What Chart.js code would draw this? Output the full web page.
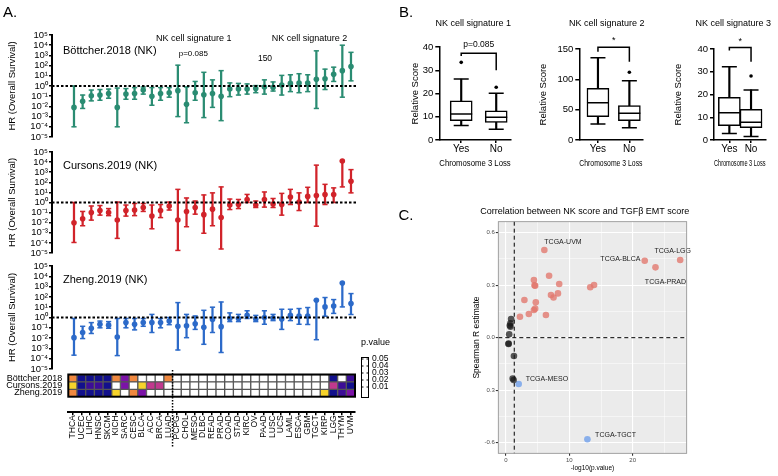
<!DOCTYPE html>
<html>
<head>
<meta charset="utf-8">
<script src="https://cdn.jsdelivr.net/npm/chart.js@4.4.1/dist/chart.umd.min.js"></script>
<style>
  body { margin: 0; background: #fff; }
  #page { position: relative; width: 778px; height: 476px; overflow: hidden; font-family: 'Liberation Sans', Arial, sans-serif; color: #000; }
  #page canvas { position: absolute; }
  .txt { position: absolute; white-space: nowrap; line-height: 1; transform: translate(-50%, -50%); }
  .left { transform: translate(0, -50%); }
  .narrow { font-family: 'Liberation Sans Narrow', 'Liberation Sans', Arial, sans-serif; }
</style>
</head>
<body>
<div id="page">
  <canvas id="forest1" width="370" height="145" style="left:0px;top:0px"></canvas>
  <canvas id="forest2" width="370" height="118" style="left:0px;top:145px"></canvas>
  <canvas id="forest3" width="370" height="123" style="left:0px;top:258px"></canvas>
  <canvas id="heat" width="400" height="125" style="left:0px;top:335px"></canvas>
  <canvas id="box1" width="130" height="175" style="left:395px;top:0px"></canvas>
  <canvas id="box2" width="125" height="175" style="left:530px;top:0px"></canvas>
  <canvas id="box3" width="118" height="175" style="left:660px;top:0px"></canvas>
  <canvas id="corr" width="398" height="286" style="left:380px;top:190px"></canvas>
</div>
<script>
// ---- data ----
const cancers = ['THCA', 'UCEC', 'LIHC', 'HNSC', 'SKCM', 'KICH', 'SARC', 'CESC', 'BLCA', 'ACC', 'BRCA', 'LUAD',
  'PCPG', 'CHOL', 'MESO', 'DLBC', 'READ', 'PRAD', 'COAD', 'STAD', 'KIRC', 'OV', 'PAAD', 'LUSC', 'UCS', 'LAML',
  'ESCA', 'GBM', 'TGCT', 'KIRP', 'LGG', 'THYM', 'UVM'];

// hazard ratios with lower / upper bounds
const hrBottcher = [0.008, 0.032, 0.11, 0.13, 0.18, 0.008, 0.16, 0.18, 0.4, 0.1, 0.18, 0.22, 0.35, 0.016, 0.22, 0.14, 0.18, 0.1, 0.5, 0.5, 0.5, 0.56, 0.8, 0.7, 1.26, 1.8, 2, 2, 4.5, 5, 14, 32, 80];
const loBottcher = [1e-4, 0.0063, 0.035, 0.04, 0.063, 1e-4, 0.05, 0.05, 0.16, 0.013, 0.04, 0.08, 0.001, 2.5e-4, 0.04, 8e-4, 0.008, 4e-4, 0.09, 0.13, 0.16, 0.22, 0.16, 0.32, 0.13, 0.28, 0.22, 0.28, 0.0063, 0.45, 2.8, 0.08, 3.2];
const hiBottcher = [1, 0.13, 0.4, 0.45, 0.5, 0.63, 0.56, 0.7, 0.8, 0.7, 0.7, 0.7, 110, 0.8, 2.8, 22, 4, 32, 2, 1.8, 1.6, 1.1, 4, 2.5, 11, 12.6, 16, 12.6, 2800, 45, 70, 10000, 2000];

const hrCursons = [0.01, 0.025, 0.1, 0.16, 0.1, 0.018, 0.16, 0.18, 0.32, 0.045, 0.16, 0.45, 0.018, 0.13, 0.32, 0.063, 0.22, 0.032, 0.56, 0.63, 2, 0.56, 2, 0.7, 0.63, 3.5, 1.1, 4, 5, 6.3, 6.3, 12600, 126];
const loCursons = [1.1e-4, 0.005, 0.018, 0.056, 0.05, 2.8e-4, 0.045, 0.05, 0.13, 0.0025, 0.032, 0.18, 1.8e-5, 0.004, 0.07, 9e-4, 0.005, 2.5e-5, 0.2, 0.25, 1, 0.32, 0.35, 0.32, 0.056, 0.63, 0.16, 1, 0.0045, 0.63, 1, 35, 9];
const hiCursons = [1, 0.13, 0.45, 0.5, 0.25, 1.1, 0.56, 0.8, 0.8, 0.56, 0.63, 1.1, 20, 2.8, 1.4, 5.6, 9, 35, 2.2, 2, 6.3, 1.4, 11, 2.5, 8, 20, 9, 32, 5000, 63, 28, 12600, 1800];

const hrZheng = [0.011, 0.035, 0.09, 0.22, 0.18, 0.0126, 0.32, 0.22, 0.32, 0.32, 0.32, 0.45, 0.14, 0.16, 0.25, 0.11, 0.63, 0.13, 0.8, 0.8, 1.6, 0.7, 1, 0.9, 0.7, 1.6, 1.35, 1.4, 47, 10.7, 13, 2200, 23];
const loZheng = [2.2e-4, 0.009, 0.028, 0.1, 0.09, 2e-4, 0.1, 0.063, 0.14, 0.035, 0.1, 0.2, 7e-4, 0.011, 0.07, 0.0025, 0.035, 4e-4, 0.4, 0.4, 0.8, 0.4, 0.22, 0.5, 0.07, 0.5, 0.22, 0.21, 0.007, 1.35, 2.5, 10.7, 1.95];
const hiZheng = [0.8, 0.14, 0.32, 0.45, 0.4, 0.8, 0.8, 0.8, 0.8, 2, 0.8, 1, 28, 2, 1.4, 5, 10, 32, 2.8, 2, 4.5, 1.6, 4.5, 2, 6.3, 6.3, 7.4, 9.3, 47, 87, 55, 2200, 210];

const hrTicks = [1e-5, 1e-4, 1e-3, 1e-2, 1e-1, 1, 1e1, 1e2, 1e3, 1e4, 1e5];

// heatmap p-values (null = not significant)
const heatRows = ['Zheng.2019', 'Cursons.2019', 'Böttcher.2018'];
const pBottcher = [0.03, 0.001, 0.003, 0.001, 0.001, 0.03, 0.012, 0.03, null, null, null, 0.03,
  null, null, null, null, null, null, null, null, null, null, null, null, null, null, null, null, null, null, 0.001, null, 0.008];
const pCursons = [0.04, 0.001, 0.005, 0.005, 0.001, null, 0.012, null, 0.04, 0.02, 0.02, null,
  null, null, null, null, null, null, null, null, null, null, null, null, null, null, null, null, null, null, 0.02, 0.004, 0.001];
const pZheng = [0.03, 0.001, 0.001, 0.001, 0.001, 0.04, null, 0.03, 0.012, null, null, null,
  null, null, null, null, null, null, null, null, null, null, null, null, null, null, null, null, null, 0.04, 0.001, 0.005, 0.012];
const pLegendTicks = [0.05, 0.04, 0.03, 0.02, 0.01];
const pStops = [0.001, 0.005, 0.012, 0.02, 0.03, 0.04];
const pColors = ['#12108c', '#3c0d97', '#7b12a7', '#c1398e', '#f0883f', '#f6d32b'];

// box plot stats: [low whisker, q1, median, q3, high whisker]
const groups = ['Yes', 'No'];
const sig1Yes = [6.2, 8.3, 11.2, 16.9, 26.2];
const sig1No = [4.6, 7.6, 9.8, 12.5, 20.1];
const sig1Out = [33.4, 22.7];
const sig2Yes = [26.4, 38.5, 61.5, 85.2, 135.7];
const sig2No = [20.3, 31.9, 44, 56.6, 97.8];
const sig2Out = [null, 111.6];
const sig3Yes = [2.9, 6.3, 12, 18.8, 32.2];
const sig3No = [1.5, 5.4, 7.8, 13.5, 22];
const sig3Out = [null, 28.1];
// bracket: [left drop end, bar level, right drop end]
const sig1Bracket = [36.1, 37.3, 30];
const sig2Bracket = [145.6, 152.8, 129];
const sig3Bracket = [39.3, 40.7, 34.4];

// correlation scatter (-log10 p, Spearman R)
const redX = [6.05, 21.9, 27.5, 23.6, 6.8, 4.4, 4.5, 4.6, 8.4, 13.3, 13.9, 2.9, 7.1, 7.5, 8.2, 4.7, 3.6, 4.4, 4.6, 2.2, 6.3];
const redY = [0.501, 0.44, 0.444, 0.402, 0.354, 0.329, 0.299, 0.297, 0.307, 0.288, 0.301, 0.215, 0.244, 0.23, 0.253, 0.202, 0.135, 0.158, 0.166, 0.12, 0.13];
const blackX = [0.8, 0.7, 0.6, 0.7, 0.5, 0.4, 0.4, 1.25, 1.05, 1.2];
const blackY = [0.107, 0.082, 0.069, 0.063, 0.019, -0.033, -0.036, -0.105, -0.234, -0.242];
const blueX = [2.0, 12.85];
const blueY = [-0.265, -0.581];
const corrYTicks = [-0.6, -0.3, 0, 0.3, 0.6];
const corrYTickText = ['-0.6', '0.3', '0.0', '0.3', '0.6'];
const corrXTicks = [0, 10, 20];

const NARROW = "'Liberation Sans Narrow', 'Liberation Sans', Arial, sans-serif";
Chart.defaults.font.family = "'Liberation Sans', Arial, sans-serif";
Chart.defaults.color = '#000';
Chart.defaults.animation = false;
Chart.defaults.plugins.legend.display = false;
Chart.defaults.plugins.tooltip.enabled = false;

// ---- panel A: forest plots ----
const SUP = { '-': '\u207B', '0': '\u2070', '1': '\u00B9', '2': '\u00B2', '3': '\u00B3', '4': '\u2074', '5': '\u2075' };
function supText(n) {
  return String(n).split('').map(c => SUP[c]).join('');
}

const refLine = {
  id: 'refLine',
  afterDatasetsDraw(chart) {
    const { ctx, chartArea, scales } = chart;
    const y = scales.y.getPixelForValue(1);
    ctx.save();
    ctx.strokeStyle = '#000';
    ctx.lineWidth = 2;
    ctx.setLineDash([2.5, 2]);
    ctx.beginPath();
    ctx.moveTo(chartArea.left, y);
    ctx.lineTo(chartArea.right, y);
    ctx.stroke();
    ctx.restore();
  }
};

function forestChart(id, hr, lo, hi, color, padding) {
  const pts = arr => arr.map((v, i) => ({ x: i, y: v }));
  const cap = data => ({
    type: 'line', data: pts(data), showLine: false, pointStyle: 'line',
    pointRadius: 2.6, pointBorderColor: color, pointBorderWidth: 1.5, order: 2
  });
  return new Chart(document.getElementById(id), {
    type: 'bar',
    data: {
      datasets: [
        { type: 'line', data: pts(hr), showLine: false, pointRadius: 2.8, pointBackgroundColor: color, pointBorderWidth: 0, order: 1 },
        cap(lo),
        cap(hi),
        { type: 'bar', data: hr.map((v, i) => ({ x: i, y: [lo[i], hi[i]] })), backgroundColor: color, barThickness: 1.6, grouped: false, order: 3 }
      ]
    },
    options: {
      responsive: false,
      layout: { padding: padding },
      scales: {
        x: { type: 'linear', min: -2.54, max: 32.81, display: false, offset: false },
        y: {
          type: 'logarithmic', min: 1e-5, max: 1e5,
          afterBuildTicks: s => { s.ticks = hrTicks.map(v => ({ value: v })); },
          afterFit: s => { s.width = 52; },
          border: { color: '#000', width: 2 },
          grid: { drawOnChartArea: false, color: '#000', lineWidth: 1.5, tickLength: 3 },
          ticks: { autoSkip: false, font: { size: 9.5 }, padding: 1, callback: v => '10' + supText(Math.round(Math.log10(v))) },
          title: { display: true, text: 'HR (Overall Survival)', font: { size: 9.5 }, padding: { top: 6.3, bottom: 0 } }
        }
      }
    },
    plugins: [refLine]
  });
}

forestChart('forest1', hrBottcher, loBottcher, hiBottcher, '#2a8c72', { left: 0, top: 35, right: 12, bottom: 8 });
forestChart('forest2', hrCursons, loCursons, hiCursons, '#d1232a', { left: 0, top: 7, right: 12, bottom: 10 });
forestChart('forest3', hrZheng, loZheng, hiZheng, '#2c6ac9', { left: 0, top: 8, right: 12, bottom: 12 });

// ---- heatmap ----
function pColor(p) {
  if (p === null) return '#ffffff';
  let best = 0;
  pStops.forEach((s, i) => { if (Math.abs(s - p) < Math.abs(pStops[best] - p)) best = i; });
  return pColors[best];
}

const heatExtras = {
  id: 'heatExtras',
  afterDraw(chart) {
    const { ctx, chartArea, scales } = chart;
    const top = scales.y.getPixelForValue(3), bottom = scales.y.getPixelForValue(0);
    ctx.save();
    // outer frame
    ctx.strokeStyle = '#000';
    ctx.lineWidth = 2;
    ctx.strokeRect(chartArea.left, top, chartArea.right - chartArea.left, bottom - top);
    // dotted separator between LUAD and PCPG
    const xs = (scales.x.getPixelForValue(11) + scales.x.getPixelForValue(12)) / 2;
    ctx.lineWidth = 1.5;
    ctx.setLineDash([1.5, 1.5]);
    ctx.beginPath();
    ctx.moveTo(xs, 35);
    ctx.lineTo(xs, 113);
    ctx.stroke();
    ctx.setLineDash([]);
    // p.value colour bar legend
    ctx.fillStyle = '#000';
    ctx.font = "9px 'Liberation Sans', Arial, sans-serif";
    ctx.textBaseline = 'middle';
    ctx.textAlign = 'left';
    ctx.fillText('p.value', 361, 8);
    ctx.lineWidth = 1;
    ctx.strokeRect(361.5, 22.5, 7, 40);
    ctx.font = "8.5px 'Liberation Sans', Arial, sans-serif";
    pLegendTicks.forEach(p => {
      const y = 24 + (0.05 - p) / 0.01 * 7;
      ctx.beginPath();
      ctx.moveTo(361.5, y); ctx.lineTo(363.5, y);
      ctx.moveTo(366.5, y); ctx.lineTo(368.5, y);
      ctx.stroke();
      ctx.fillText(p.toFixed(2), 372, y);
    });
    ctx.restore();
  }
};

new Chart(document.getElementById('heat'), {
  type: 'bar',
  data: {
    labels: cancers,
    datasets: [pZheng, pCursons, pBottcher].map((row, k) => ({
      label: heatRows[k],
      data: cancers.map(() => 1),
      backgroundColor: row.map(pColor),
      borderColor: '#555',
      borderWidth: 1,
      borderSkipped: false,
      barPercentage: 1,
      categoryPercentage: 1,
      stack: 'cells'
    }))
  },
  options: {
    responsive: false,
    layout: { padding: { left: 0, top: 39.5, right: 45, bottom: 0 } },
    scales: {
      x: {
        stacked: true, offset: true,
        afterFit: s => { s.height = 47.7; },
        border: { color: '#000', width: 2 },
        grid: { offset: false, drawOnChartArea: false, color: '#000', lineWidth: 1.5, tickLength: 3 },
        ticks: { minRotation: 90, maxRotation: 90, autoSkip: false, font: { size: 8.5 }, padding: 0 }
      },
      y: {
        stacked: true, min: -2.108, max: 3,
        afterBuildTicks: s => { s.ticks = [0.5, 1.5, 2.5].map(v => ({ value: v })); },
        afterFit: s => { s.width = 68.3; },
        border: { display: false },
        grid: { display: false, drawTicks: false },
        ticks: { font: { size: 9 }, padding: 6, callback: v => heatRows[Math.floor(v)] }
      }
    }
  },
  plugins: [heatExtras]
});

// ---- panel B: box plots ----
const textLabels = {
  id: 'textLabels',
  afterDatasetsDraw(chart, args, opts) {
    const { ctx, scales } = chart;
    ctx.save();
    (opts.items || []).forEach(it => {
      ctx.font = it.font;
      ctx.fillStyle = it.color || '#000';
      ctx.textAlign = it.align || 'center';
      ctx.textBaseline = 'middle';
      ctx.fillText(it.text, scales.x.getPixelForValue(it.x) + (it.dx || 0), scales.y.getPixelForValue(it.y) + (it.dy || 0));
    });
    ctx.restore();
  }
};

function boxChart(id, cfg) {
  const stats = [cfg.yes, cfg.no];
  const at = k => stats.map((s, i) => ({ x: i, y: s[k] }));
  const b = cfg.bracket;
  return new Chart(document.getElementById(id), {
    type: 'bar',
    data: {
      datasets: [
        { type: 'bar', data: stats.map((s, i) => ({ x: i, y: [s[0], s[4]] })), backgroundColor: '#000', barThickness: 1.5, grouped: false, order: 4 },
        { type: 'bar', data: stats.map((s, i) => ({ x: i, y: [s[1], s[3]] })), backgroundColor: '#fff', borderColor: '#000', borderWidth: 1.5, borderSkipped: false, barThickness: 22, grouped: false, order: 3 },
        { type: 'line', data: at(2), showLine: false, pointStyle: 'line', pointRadius: 11, pointBorderColor: '#000', pointBorderWidth: 1.5, order: 2 },
        { type: 'line', data: at(0).concat(at(4)), showLine: false, pointStyle: 'line', pointRadius: 7.5, pointBorderColor: '#000', pointBorderWidth: 1.5, order: 2 },
        { type: 'line', data: cfg.out.map((v, i) => ({ x: i, y: v })).filter(p => p.y !== null), showLine: false, pointRadius: 1.8, pointBackgroundColor: '#000', pointBorderWidth: 0, order: 1 },
        { type: 'line', data: [{ x: 0, y: b[0] }, { x: 0, y: b[1] }, { x: 1, y: b[1] }, { x: 1, y: b[2] }], borderColor: '#000', borderWidth: 1.5, pointRadius: 0, clip: false, order: 1 }
      ]
    },
    options: {
      responsive: false,
      layout: { padding: { left: 0, top: cfg.top, right: cfg.padRight, bottom: 0 } },
      plugins: { textLabels: { items: [{ text: cfg.mark, x: 0.5, y: cfg.markY, font: cfg.markFont }] } },
      scales: {
        x: {
          type: 'linear', min: cfg.xMin, max: cfg.xMax, offset: false,
          afterBuildTicks: s => { s.ticks = [{ value: 0 }, { value: 1 }]; },
          afterFit: s => { s.height = 35; },
          border: { color: '#000', width: 1.5 },
          grid: { drawOnChartArea: false, offset: false, color: '#000', lineWidth: 1.5, tickLength: 3 },
          ticks: { font: { family: NARROW, size: 10 }, padding: 0, callback: v => groups[v] },
          title: { display: true, text: 'Chromosome 3 Loss', font: { family: NARROW, size: 9.5 }, padding: { top: 0, bottom: 6.3 } }
        },
        y: {
          min: 0, max: cfg.yMax,
          ticks: { stepSize: cfg.yStep, font: { family: NARROW, size: 9.5 }, padding: 2 },
          afterFit: s => { s.width = cfg.yWidth; },
          border: { color: '#000', width: 1.5 },
          grid: { drawOnChartArea: false, color: '#000', lineWidth: 1.5, tickLength: 4 },
          title: { display: true, text: 'Relative Score', font: { family: NARROW, size: 9.5 }, padding: { top: cfg.titlePad, bottom: 0 } }
        }
      }
    },
    plugins: [textLabels]
  });
}

boxChart('box1', { yes: sig1Yes, no: sig1No, out: sig1Out, bracket: sig1Bracket, mark: 'p=0.085', markY: 40.9, markFont: "8.5px " + NARROW,
  top: 47, padRight: 14.3, xMin: -0.626, xMax: 1.414, yMax: 40, yStep: 10, yWidth: 44.3, titlePad: 14.3 });
boxChart('box2', { yes: sig2Yes, no: sig2No, out: sig2Out, bracket: sig2Bracket, mark: '*', markY: 164, markFont: "9px " + NARROW,
  top: 49, padRight: 8.3, xMin: -0.594, xMax: 1.418, yMax: 150, yStep: 50, yWidth: 49.3, titlePad: 7.6 });
boxChart('box3', { yes: sig3Yes, no: sig3No, out: sig3Out, bracket: sig3Bracket, mark: '*', markY: 43.1, markFont: "9px " + NARROW,
  top: 49, padRight: 6.3, xMin: -0.708, xMax: 1.667, yMax: 40, yStep: 10, yWidth: 54, titlePad: 12.6 });

// ---- panel C: correlation scatter ----
const ggPanel = {
  id: 'ggPanel',
  beforeDraw(chart) {
    const { ctx, chartArea: a } = chart;
    ctx.save();
    ctx.fillStyle = '#ebebeb';
    ctx.fillRect(a.left, a.top, a.right - a.left, a.bottom - a.top);
    ctx.restore();
  },
  beforeDatasetsDraw(chart) {
    const { ctx, chartArea: a, scales } = chart;
    ctx.save();
    ctx.strokeStyle = '#000';
    ctx.lineWidth = 1;
    ctx.setLineDash([4, 3]);
    const xv = scales.x.getPixelForValue(-Math.log10(0.05));
    const y0 = scales.y.getPixelForValue(0);
    ctx.beginPath();
    ctx.moveTo(xv, a.top); ctx.lineTo(xv, a.bottom);
    ctx.moveTo(a.left, y0); ctx.lineTo(a.right, y0);
    ctx.stroke();
    ctx.restore();
  },
  afterDraw(chart) {
    const { ctx, chartArea: a } = chart;
    ctx.save();
    ctx.strokeStyle = '#8c8c8c';
    ctx.lineWidth = 0.8;
    ctx.strokeRect(a.left, a.top, a.right - a.left, a.bottom - a.top);
    ctx.restore();
  }
};

const zip = (xs, ys) => xs.map((x, i) => ({ x: x, y: ys[i] }));
const LBL = "7px 'Liberation Sans', Arial, sans-serif";
new Chart(document.getElementById('corr'), {
  type: 'scatter',
  data: {
    datasets: [
      { data: zip(redX, redY), pointRadius: 3.3, pointBackgroundColor: 'rgba(226,118,108,0.78)', pointBorderWidth: 0 },
      { data: zip(blackX, blackY), pointRadius: 3.3, pointBackgroundColor: 'rgba(25,25,25,0.72)', pointBorderWidth: 0 },
      { data: zip(blueX, blueY), pointRadius: 3.3, pointBackgroundColor: 'rgba(120,165,235,0.85)', pointBorderWidth: 0 }
    ]
  },
  options: {
    responsive: false,
    layout: { padding: { left: 0, top: 31.7, right: 91.3, bottom: 0 } },
    plugins: {
      textLabels: {
        items: [
          { text: 'TCGA-UVM', x: redX[0], y: redY[0], dx: 0, dy: -8.3, align: 'left', font: LBL, color: '#222' },
          { text: 'TCGA-LGG', x: redX[2], y: redY[2], dx: -7.5, dy: -9, align: 'center', font: LBL, color: '#222' },
          { text: 'TCGA-BLCA', x: redX[1], y: redY[1], dx: -4.3, dy: -2, align: 'right', font: LBL, color: '#222' },
          { text: 'TCGA-PRAD', x: redX[3], y: redY[3], dx: 10, dy: 14.6, align: 'center', font: LBL, color: '#222' },
          { text: 'TCGA-MESO', x: blueX[0], y: blueY[0], dx: 7, dy: -4.7, align: 'left', font: LBL, color: '#222' },
          { text: 'TCGA-TGCT', x: blueX[1], y: blueY[1], dx: 7.7, dy: -4.3, align: 'left', font: LBL, color: '#222' }
        ]
      }
    },
    scales: {
      x: {
        min: -1.22, max: 28.53,
        afterBuildTicks: s => { s.ticks = [0, 5, 10, 15, 20, 25].map(v => ({ value: v })); },
        afterFit: s => { s.height = 22.7; },
        border: { display: false },
        grid: {
          color: '#fff',
          lineWidth: c => corrXTicks.includes(c.tick.value) ? 1.1 : 0.5,
          tickColor: c => corrXTicks.includes(c.tick.value) ? '#333' : 'rgba(0,0,0,0)',
          tickLength: 2.5
        },
        ticks: { font: { size: 6 }, color: '#4d4d4d', padding: 1, callback: v => corrXTicks.includes(v) ? String(v) : '' },
        title: { display: true, text: '-log10(p.value)', font: { size: 6.5 }, padding: { top: 0, bottom: 4.1 } }
      },
      y: {
        min: -0.661, max: 0.663,
        afterBuildTicks: s => { s.ticks = [-0.6, -0.45, -0.3, -0.15, 0, 0.15, 0.3, 0.45, 0.6].map(v => ({ value: v })); },
        afterFit: s => { s.width = 118.3; },
        border: { display: false },
        grid: {
          color: '#fff',
          lineWidth: c => corrYTicks.includes(c.tick.value) ? 1.1 : 0.5,
          tickColor: c => corrYTicks.includes(c.tick.value) ? '#333' : 'rgba(0,0,0,0)',
          tickLength: 2.5
        },
        ticks: { font: { size: 6 }, color: '#4d4d4d', padding: 1, callback: v => { const i = corrYTicks.indexOf(v); return i < 0 ? '' : corrYTickText[i]; } },
        title: { display: true, text: 'Spearman R estimate', font: { size: 8.5 }, padding: { top: 91.6, bottom: 0 } }
      }
    }
  },
  plugins: [ggPanel, textLabels]
});

// ---- free text ----
const notes = [
  { t: 'A.', x: 10, y: 11, size: 15 },
  { t: 'B.', x: 406, y: 11, size: 15 },
  { t: 'C.', x: 406, y: 213.5, size: 15 },
  { t: 'Böttcher.2018 (NK)', x: 63, y: 50, size: 11, left: true },
  { t: 'Cursons.2019 (NK)', x: 63, y: 165, size: 11, left: true },
  { t: 'Zheng.2019 (NK)', x: 63, y: 279.3, size: 11, left: true },
  { t: 'NK cell signature 1', x: 193.8, y: 38.3, size: 9, narrow: true },
  { t: 'p=0.085', x: 193.3, y: 54, size: 8, narrow: true },
  { t: '150', x: 265, y: 58.3, size: 8.5, narrow: true },
  { t: 'NK cell signature 2', x: 309.5, y: 38.3, size: 9, narrow: true },
  { t: 'NK cell signature 1', x: 473.3, y: 23.3, size: 9, narrow: true },
  { t: 'NK cell signature 2', x: 606.7, y: 23.3, size: 9, narrow: true },
  { t: 'NK cell signature 3', x: 733.3, y: 23.3, size: 9, narrow: true },
  { t: 'Correlation between NK score and TGF\u03B2 EMT score', x: 584.7, y: 211, size: 9 }
];
const page = document.getElementById('page');
notes.forEach(n => {
  const d = document.createElement('div');
  d.className = 'txt' + (n.left ? ' left' : '') + (n.narrow ? ' narrow' : '');
  d.textContent = n.t;
  d.style.left = n.x + 'px';
  d.style.top = n.y + 'px';
  d.style.fontSize = n.size + 'px';
  page.appendChild(d);
});
</script>
</body>
</html>
